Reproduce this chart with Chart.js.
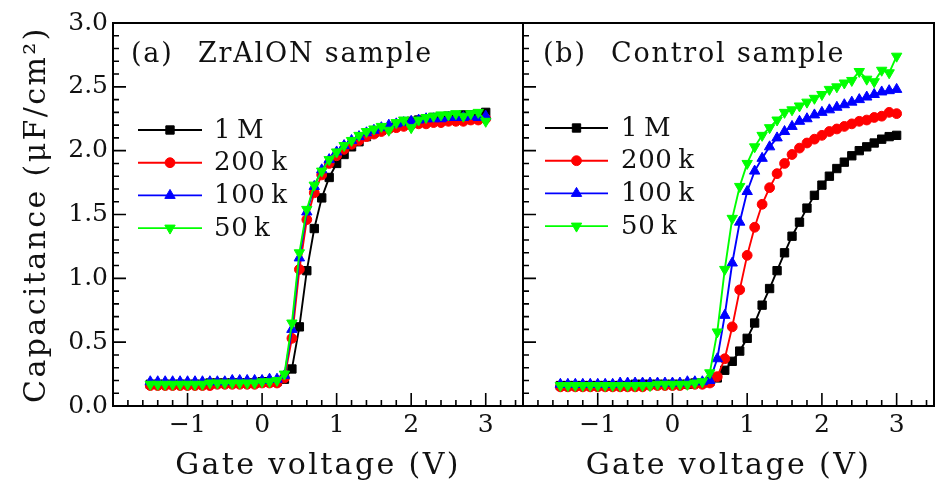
<!DOCTYPE html>
<html>
<head>
<meta charset="utf-8">
<script src="https://cdn.jsdelivr.net/npm/chart.js@4.4.1/dist/chart.umd.min.js"></script>
<style>
html,body{margin:0;padding:0;background:#fff;}
#wrap{position:relative;width:942px;height:492px;overflow:hidden;}
#wrap canvas{position:absolute;left:0;top:0;}
</style>
</head>
<body>
<div id="wrap">
<canvas id="chartA" width="942" height="492"></canvas>
<canvas id="chartB" width="942" height="492"></canvas>
</div>
<script>
// ---------- data ----------
const voltages = [-1.5,-1.4,-1.3,-1.2,-1.1,-1.0,-0.9,-0.8,-0.7,-0.6,-0.5,-0.4,-0.3,-0.2,-0.1,
  0.0,0.1,0.2,0.3,0.4,0.5,0.6,0.7,0.8,0.9,1.0,1.1,1.2,1.3,1.4,1.5,1.6,1.7,1.8,1.9,
  2.0,2.1,2.2,2.3,2.4,2.5,2.6,2.7,2.8,2.9,3.0];

const seriesLabels = ['1\u2009M', '200\u2009k', '100\u2009k', '50\u2009k'];

// (a) ZrAlON sample
const zrAlON_1M = [0.17,0.17,0.17,0.17,0.17,0.17,0.17,0.17,0.18,0.18,0.18,0.18,0.18,0.18,0.18,0.19,0.19,0.19,
  0.21,0.29,0.62,1.06,1.39,1.63,1.79,1.90,1.97,2.03,2.07,2.11,2.14,2.16,2.18,2.20,2.22,2.23,2.24,2.25,2.26,2.26,2.27,2.27,2.28,2.28,2.28,2.30];
const zrAlON_200k = [0.16,0.16,0.16,0.16,0.16,0.16,0.16,0.16,0.16,0.17,0.17,0.17,0.17,0.17,0.17,0.18,0.18,0.18,
  0.22,0.53,1.07,1.46,1.67,1.81,1.90,1.96,2.01,2.05,2.08,2.11,2.13,2.15,2.17,2.18,2.19,2.20,2.21,2.21,2.22,2.22,2.23,2.23,2.23,2.24,2.24,2.25];
const zrAlON_100k = [0.19,0.19,0.19,0.19,0.19,0.19,0.19,0.19,0.19,0.19,0.19,0.20,0.20,0.20,0.20,0.20,0.21,0.21,
  0.24,0.60,1.16,1.52,1.72,1.85,1.93,1.99,2.04,2.08,2.11,2.14,2.16,2.18,2.20,2.21,2.22,2.23,2.24,2.25,2.25,2.25,2.26,2.26,2.26,2.27,2.26,2.27];
const zrAlON_50k = [0.17,0.17,0.17,0.17,0.17,0.17,0.17,0.17,0.18,0.18,0.18,0.18,0.18,0.18,0.18,0.19,0.19,0.20,
  0.25,0.65,1.20,1.54,1.73,1.84,1.93,1.99,2.04,2.08,2.12,2.15,2.17,2.19,2.16,2.22,2.24,2.18,2.24,2.26,2.27,2.28,2.28,2.29,2.27,2.29,2.30,2.23];

// (b) Control sample
const control_1M = [0.16,0.16,0.16,0.16,0.16,0.16,0.16,0.16,0.16,0.16,0.17,0.17,0.17,0.17,0.17,0.17,0.17,0.17,0.18,0.18,0.19,
  0.22,0.28,0.35,0.43,0.53,0.65,0.79,0.92,1.06,1.20,1.33,1.44,1.55,1.65,1.73,1.80,1.86,1.91,1.96,2.00,2.03,2.06,2.09,2.11,2.12];
const control_200k = [0.15,0.15,0.15,0.15,0.15,0.15,0.15,0.15,0.15,0.15,0.15,0.15,0.16,0.16,0.16,0.16,0.16,0.17,0.17,0.17,
  0.18,0.23,0.37,0.62,0.91,1.18,1.40,1.58,1.71,1.82,1.90,1.97,2.02,2.06,2.09,2.12,2.15,2.17,2.19,2.21,2.23,2.24,2.26,2.27,2.30,2.29];
const control_100k = [0.17,0.17,0.17,0.17,0.17,0.17,0.17,0.17,0.18,0.18,0.18,0.18,0.18,0.18,0.18,0.18,0.18,0.19,0.19,0.19,
  0.20,0.37,0.71,1.12,1.44,1.68,1.84,1.94,2.03,2.10,2.15,2.19,2.23,2.25,2.28,2.30,2.32,2.34,2.36,2.38,2.40,2.42,2.44,2.46,2.47,2.48];
const control_50k = [0.16,0.16,0.16,0.16,0.16,0.16,0.16,0.16,0.16,0.16,0.16,0.16,0.16,0.17,0.17,0.17,0.17,0.17,0.18,0.19,
  0.26,0.58,1.07,1.47,1.72,1.90,2.03,2.12,2.18,2.24,2.30,2.32,2.35,2.38,2.41,2.44,2.48,2.50,2.53,2.55,2.62,2.56,2.54,2.63,2.61,2.74];

const xTickValues = [-1, 0, 1, 2, 3];
const yTickValues = [0.0, 0.5, 1.0, 1.5, 2.0, 2.5, 3.0];
const xRange = [-2.0, 3.5];
const yRange = [0.0, 3.0];

const panelTags = ['(a)', '(b)'];
const panelNames = ['ZrAlON sample', 'Control sample'];
const xTitle = 'Gate voltage (V)';
const yTitle = 'Capacitance (\u03bcF/cm\u00b2)';

// ---------- styling ----------
const FONT = "'DejaVu Serif', serif";
const TEXT = '#111';
Chart.defaults.font.family = FONT;
Chart.defaults.color = TEXT;

const seriesStyle = [
  {color: '#000000', pointStyle: 'rect', radius: 5.9, rotation: 0},
  {color: '#ff0000', pointStyle: 'circle', radius: 4.9, rotation: 0},
  {color: '#0000ff', pointStyle: 'triangle', radius: 6.0, rotation: 0},
  {color: '#00ff00', pointStyle: 'triangle', radius: 6.0, rotation: 180}
];
const drawOrder = [3, 2, 1, 0]; // green on top

function makeDatasets(seriesList) {
  return seriesList.map((vals, i) => ({
    label: seriesLabels[i],
    data: voltages.map((v, k) => ({x: v, y: vals[k]})),
    borderColor: seriesStyle[i].color,
    backgroundColor: seriesStyle[i].color,
    pointBackgroundColor: seriesStyle[i].color,
    pointBorderColor: seriesStyle[i].color,
    pointStyle: seriesStyle[i].pointStyle,
    pointRadius: seriesStyle[i].radius,
    pointRotation: seriesStyle[i].rotation,
    pointBorderWidth: 1,
    borderWidth: 1.9,
    tension: 0,
    order: drawOrder[i],
    clip: false
  }));
}

// letter spacing for axis titles only
const spacingPlugin = {
  id: 'spacing',
  beforeDraw(chart) { chart.ctx.letterSpacing = '2.4px'; },
  beforeDatasetsDraw(chart) { chart.ctx.letterSpacing = '0px'; }
};

// frame + inward ticks
const framePlugin = {
  id: 'frame',
  afterDraw(chart) {
    const {ctx, chartArea: ca, scales} = chart;
    const x = scales.x, y = scales.y;
    ctx.save();
    ctx.letterSpacing = '0px';
    ctx.strokeStyle = '#000';
    ctx.lineWidth = 1.6;
    ctx.beginPath();
    for (let k = Math.round(xRange[0] * 5); k <= Math.round(xRange[1] * 5); k++) {
      const v = k / 5;
      const px = x.getPixelForValue(v);
      if (px <= ca.left + 1 || px >= ca.right - 1) continue;
      const len = (k % 5 === 0) ? 13 : 6;
      ctx.moveTo(px, ca.bottom); ctx.lineTo(px, ca.bottom - len);
    }
    for (let k = Math.round(yRange[0] * 10); k <= Math.round(yRange[1] * 10); k++) {
      const v = k / 10;
      const py = y.getPixelForValue(v);
      if (py <= ca.top + 1 || py >= ca.bottom - 1) continue;
      const len = (k % 5 === 0) ? 13 : 6;
      ctx.moveTo(ca.left, py); ctx.lineTo(ca.left + len, py);
    }
    ctx.stroke();
    ctx.lineWidth = 2;
    ctx.strokeRect(ca.left, ca.top, ca.right - ca.left, ca.bottom - ca.top);
    ctx.restore();
  }
};

// in-panel legend and panel label
const annotPlugin = {
  id: 'annot',
  afterDatasetsDraw(chart, args, o) {
    const {ctx, chartArea: ca} = chart;
    ctx.save();
    ctx.fillStyle = TEXT;
    ctx.font = '27px ' + FONT;
    ctx.textAlign = 'left';
    ctx.textBaseline = 'alphabetic';
    ctx.letterSpacing = '1.8px';
    ctx.fillText(o.tag, ca.left + o.tagX, ca.top + 39);
    ctx.fillText(o.name, ca.left + o.nameX, ca.top + 39);
    ctx.letterSpacing = '0.6px';
    ctx.font = '26px ' + FONT;
    ctx.textBaseline = 'middle';
    seriesLabels.forEach((lab, i) => {
      const ds = chart.data.datasets[i];
      const yy = ca.top + o.legTop + i * 32.7;
      const x1 = ca.left + o.lineStart, x2 = ca.left + o.lineEnd;
      ctx.strokeStyle = ds.borderColor;
      ctx.lineWidth = ds.borderWidth;
      ctx.beginPath(); ctx.moveTo(x1, yy); ctx.lineTo(x2, yy); ctx.stroke();
      ctx.fillStyle = ds.pointBackgroundColor;
      ctx.strokeStyle = ds.pointBorderColor;
      ctx.lineWidth = 1;
      Chart.helpers.drawPoint(ctx, {pointStyle: ds.pointStyle, rotation: ds.pointRotation, radius: ds.pointRadius, borderWidth: 1}, (x1 + x2) / 2, yy);
      ctx.fillStyle = TEXT;
      ctx.fillText(lab, ca.left + o.textStart, yy + 1);
    });
    ctx.restore();
  }
};

function fmtX(v) { return v < 0 ? '\u2212' + Math.abs(v) : String(v); }

function makeConfig(seriesList, isLeft, annot) {
  return {
    type: 'line',
    data: {datasets: makeDatasets(seriesList)},
    options: {
      responsive: false,
      animation: false,
      devicePixelRatio: 1,
      events: [],
      layout: {padding: isLeft ? {left: 0, top: 23, right: 419, bottom: 0} : {left: 523, top: 23, right: 8, bottom: 0}},
      plugins: {legend: {display: false}, tooltip: {enabled: false}, annot: annot},
      scales: {
        x: {
          type: 'linear', min: xRange[0], max: xRange[1],
          afterBuildTicks: s => { s.ticks = xTickValues.map(v => ({value: v})); },
          afterFit: s => { s.height = 86; },
          grid: {display: false, drawTicks: false},
          border: {display: false},
          ticks: {z: 1, padding: 4, color: TEXT, font: {size: 25, family: FONT}, callback: v => fmtX(v), maxRotation: 0, autoSkip: false},
          title: {display: true, text: xTitle, color: TEXT, font: {size: 30, family: FONT}, padding: {top: 0, bottom: 8}}
        },
        y: {
          type: 'linear', min: yRange[0], max: yRange[1],
          display: isLeft,
          afterBuildTicks: s => { s.ticks = yTickValues.map(v => ({value: v})); },
          afterFit: s => { if (isLeft) s.width = 113; },
          grid: {display: false, drawTicks: false},
          border: {display: false},
          ticks: {z: 1, padding: 5, color: TEXT, font: {size: 25, family: FONT}, callback: v => Number(v).toFixed(1), autoSkip: false},
          title: {display: true, text: yTitle, color: TEXT, font: {size: 30, family: FONT}, padding: {top: 19, bottom: 0}}
        }
      }
    },
    plugins: [spacingPlugin, annotPlugin, framePlugin]
  };
}

new Chart(document.getElementById('chartA'), makeConfig(
  [zrAlON_1M, zrAlON_200k, zrAlON_100k, zrAlON_50k], true,
  {tag: panelTags[0], name: panelNames[0], tagX: 18, nameX: 85, legTop: 107, lineStart: 25, lineEnd: 89, textStart: 101}
));
new Chart(document.getElementById('chartB'), makeConfig(
  [control_1M, control_200k, control_100k, control_50k], false,
  {tag: panelTags[1], name: panelNames[1], tagX: 20, nameX: 88, legTop: 105, lineStart: 22, lineEnd: 85, textStart: 98}
));
</script>
</body>
</html>
